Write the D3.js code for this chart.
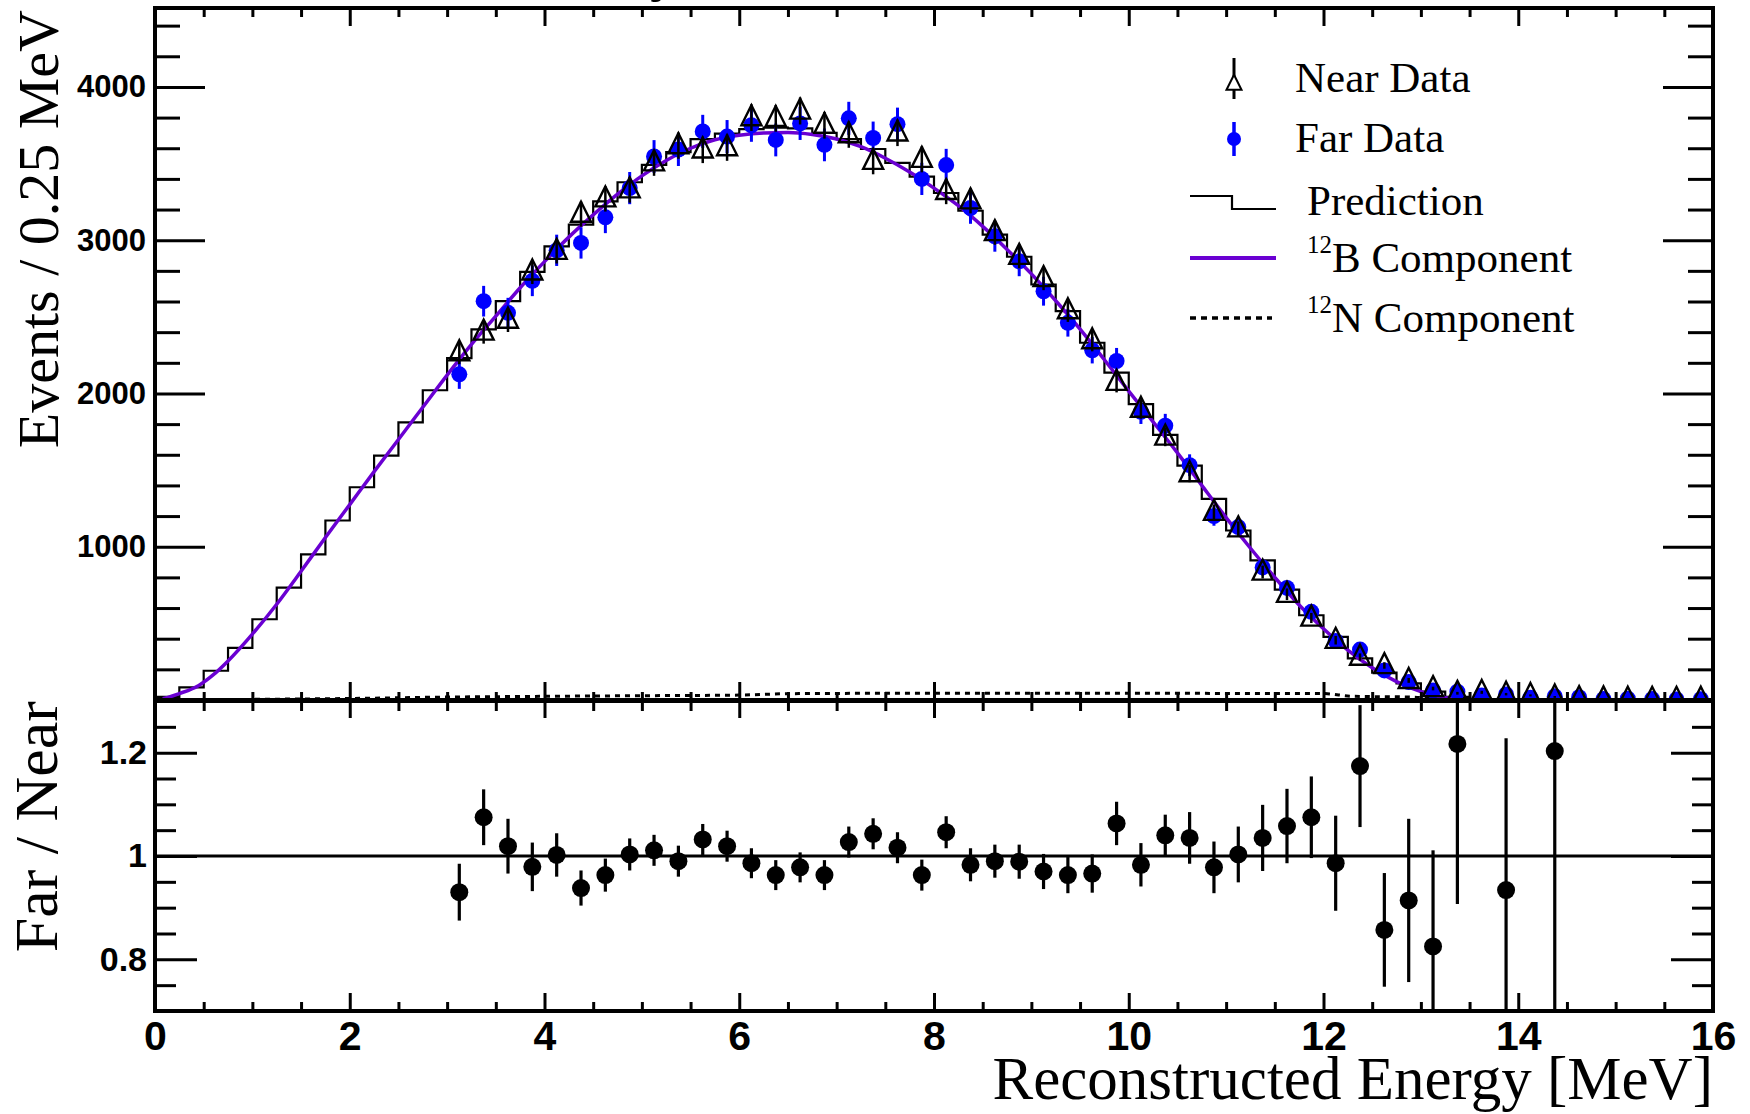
<!DOCTYPE html>
<html>
<head>
<meta charset="utf-8">
<script src="https://cdn.jsdelivr.net/npm/d3@7"></script>
<style>
  html, body { margin: 0; padding: 0; background: #ffffff; }
  svg { display: block; }
</style>
</head>
<body>
<svg id="chart" width="1750" height="1114"></svg>
<script>
// ---------------- DATA ----------------
const binWidth = 0.25;
// Prediction histogram: 64 bins of 0.25 MeV from 0 to 16 MeV
const predValues = [
  21, 82, 191, 340, 527, 733, 950, 1171, 1388, 1594,
  1812, 2021, 2231, 2418, 2602, 2793, 2960, 3101, 3253, 3378,
  3492, 3574, 3660, 3695, 3725, 3735, 3730, 3700, 3660, 3595,
  3505, 3415, 3308, 3192, 3036, 2892, 2711, 2537, 2331, 2136,
  1930, 1730, 1529, 1312, 1106, 911, 720, 553, 412, 271,
  178, 108, 54, 20, 6, 2, 0, 0, 0, 0,
  0, 0, 0, 0
];

// Data bin centres (MeV), 3.125 ... 15.875
const dataCenters = d3.range(3.125, 16, binWidth);
const nearValues = [
  2266, 2401, 2478, 2793, 2928, 3170, 3270, 3329, 3505, 3617, 3589, 3604,
  3800, 3795, 3843, 3750, 3689, 3515, 3700, 3528, 3318, 3257, 3050, 2895,
  2750, 2540, 2345, 2073, 1898, 1716, 1477, 1225, 1117, 835, 690, 535,
  390, 280, 225, 128, 75, 44, 50, 38, 30, 20, 10, 8,
  6, 5, 5, 6
];
const nearErrors = [
  75, 76, 77, 79, 80, 82, 83, 84, 85, 86, 86, 86,
  87, 87, 88, 87, 86, 85, 86, 85, 83, 82, 80, 78,
  76, 73, 70, 66, 63, 60, 56, 51, 48, 42, 38, 33,
  28, 24, 21, 16, 12, 9, 10, 8, 7, 6, 4, 4,
  3, 3, 3, 3
];
const farValues = [
  2125, 2602, 2526, 2735, 2934, 2982, 3149, 3340, 3546, 3591, 3710, 3676,
  3750, 3654, 3762, 3622, 3795, 3667, 3757, 3400, 3490, 3210, 3025, 2862,
  2667, 2461, 2282, 2212, 1880, 1790, 1532, 1200, 1128, 865, 731, 575,
  385, 329, 193, 117, 62, 54, 30, 36, 15, 24, 18, 6,
  8, 6, 4, 5
];
const farErrors = [
  95, 100, 98, 100, 102, 102, 103, 105, 107, 107, 108, 108,
  108, 107, 108, 107, 108, 107, 108, 105, 106, 103, 100, 97,
  94, 90, 86, 85, 79, 77, 71, 63, 61, 53, 49, 43,
  36, 33, 25, 20, 14, 13, 10, 11, 7, 9, 7, 4,
  5, 4, 3, 3
];

// 12B component (smooth curve) [MeV, events]
const b12Curve = [
  [0.08, 8], [0.25, 42], [0.45, 95], [0.6, 165], [0.75, 255], [1.0, 430],
  [1.25, 625], [1.5, 840], [1.75, 1060], [2.0, 1275], [2.25, 1490], [2.5, 1700],
  [2.75, 1910], [3.0, 2120], [3.25, 2320], [3.5, 2505], [3.75, 2690], [4.0, 2860],
  [4.25, 3020], [4.5, 3165], [4.75, 3300], [5.0, 3420], [5.25, 3520], [5.5, 3600],
  [5.75, 3655], [6.0, 3685], [6.25, 3700], [6.5, 3703], [6.75, 3690], [7.0, 3660],
  [7.25, 3610], [7.5, 3535], [7.75, 3445], [8.0, 3340], [8.25, 3225], [8.5, 3090],
  [8.75, 2940], [9.0, 2780], [9.25, 2605], [9.5, 2420], [9.75, 2220], [10.0, 2015],
  [10.25, 1815], [10.5, 1612], [10.75, 1400], [11.0, 1190], [11.25, 990], [11.5, 800],
  [11.75, 620], [12.0, 465], [12.25, 325], [12.5, 210], [12.75, 120], [13.0, 55],
  [13.25, 15], [13.45, 0]
];
// 12N component (dotted curve) [MeV, events]
const n12Curve = [
  [0.0, 0], [1.0, 4], [2.0, 10], [3.0, 19], [4.0, 24], [5.0, 28], [6.0, 32],
  [6.5, 41], [7.0, 43], [8.0, 44], [9.0, 44], [10.0, 44], [11.0, 43], [12.0, 42],
  [12.3, 24], [12.9, 19], [13.2, 5], [13.5, 0], [16.0, 0]
];

// Far / Near ratio
const ratioEnergy = [
  3.125, 3.375, 3.625, 3.875, 4.125, 4.375, 4.625, 4.875, 5.125, 5.375, 5.625, 5.875,
  6.125, 6.375, 6.625, 6.875, 7.125, 7.375, 7.625, 7.875, 8.125, 8.375, 8.625, 8.875,
  9.125, 9.375, 9.625, 9.875, 10.125, 10.375, 10.625, 10.875, 11.125, 11.375, 11.625, 11.875,
  12.125, 12.375, 12.625, 12.875, 13.125, 13.375, 13.875, 14.375
];
const ratioValues = [
  0.930, 1.075, 1.019, 0.979, 1.002, 0.938, 0.963, 1.003, 1.011, 0.990, 1.032, 1.019,
  0.986, 0.963, 0.978, 0.963, 1.027, 1.043, 1.016, 0.963, 1.046, 0.983, 0.990, 0.989,
  0.970, 0.963, 0.966, 1.063, 0.983, 1.040, 1.035, 0.978, 1.003, 1.035, 1.058, 1.075,
  0.986, 1.174, 0.857, 0.914, 0.825, 1.217, 0.934, 1.203
];
const ratioErrors = [
  0.055, 0.054, 0.053, 0.047, 0.042, 0.034, 0.032, 0.031, 0.030, 0.030, 0.030, 0.030,
  0.029, 0.029, 0.029, 0.029, 0.030, 0.030, 0.030, 0.030, 0.031, 0.032, 0.032, 0.033,
  0.034, 0.035, 0.037, 0.042, 0.042, 0.040, 0.050, 0.050, 0.054, 0.064, 0.072, 0.079,
  0.092, 0.118, 0.110, 0.158, 0.186, 0.310, 0.294, 0.600
];

// Axis ticks and labels
const xMajorTicks = [0, 2, 4, 6, 8, 10, 12, 14, 16];
const xMinorTicks = [0.5, 1, 1.5, 2.5, 3, 3.5, 4.5, 5, 5.5, 6.5, 7, 7.5, 8.5, 9, 9.5,
  10.5, 11, 11.5, 12.5, 13, 13.5, 14.5, 15, 15.5];
const yTopMajorTicks = [1000, 2000, 3000, 4000];
const yTopMinorTicks = [200, 400, 600, 800, 1200, 1400, 1600, 1800, 2200, 2400, 2600, 2800,
  3200, 3400, 3600, 3800, 4200, 4400];
const yBotMajorTicks = [0.8, 1.0, 1.2];
const yBotMinorTicks = [0.75, 0.85, 0.9, 0.95, 1.05, 1.1, 1.15, 1.25];

const xTitle = "Reconstructed Energy [MeV]";
const yTopTitle = "Events / 0.25 MeV";
const yBotTitle = "Far / Near";
const legendEntries = ["Near Data", "Far Data", "Prediction", "B Component", "N Component"];
const legendSup = ["", "", "", "12", "12"];

// ---------------- LAYOUT ----------------
const svg = d3.select("#chart");
const L = 155, R = 1713;
const topT = 8, topB = 700, botT = 701, botB = 1011;
const serif = "'Liberation Serif', 'Times New Roman', serif";
const sans = "'Liberation Sans', Arial, Helvetica, sans-serif";
const BLUE = "#0000ff";
const PURPLE = "#6a00d2";

const x = d3.scaleLinear().domain([0, 16]).range([L, R]);
const yTop = d3.scaleLinear().domain([0, 4515]).range([topB, topT]);
const yBot = d3.scaleLinear().domain([0.7, 1.3]).range([botB, botT]);

svg.append("rect").attr("width", 1750).attr("height", 1114).attr("fill", "#fff");

const defs = svg.append("defs");
defs.append("clipPath").attr("id", "clipTop")
  .append("rect").attr("x", L).attr("y", topT).attr("width", R - L).attr("height", topB - topT);
defs.append("clipPath").attr("id", "clipBot")
  .append("rect").attr("x", L).attr("y", botT).attr("width", R - L).attr("height", botB - botT);

// ---------------- TOP PANEL ----------------
const gTop = svg.append("g").attr("clip-path", "url(#clipTop)");

// prediction histogram
const histPts = predValues.map((v, i) => [i * binWidth, v]);
histPts.push([predValues.length * binWidth, predValues[predValues.length - 1]]);
gTop.append("path")
  .attr("d", d3.line().x(d => x(d[0])).y(d => yTop(d[1])).curve(d3.curveStepAfter)(histPts))
  .attr("fill", "none").attr("stroke", "#000").attr("stroke-width", 2.2);

// 12N component
gTop.append("path")
  .attr("d", d3.line().x(d => x(d[0])).y(d => yTop(d[1])).curve(d3.curveMonotoneX)(n12Curve))
  .attr("fill", "none").attr("stroke", "#000").attr("stroke-width", 3)
  .attr("stroke-dasharray", "5,5");

// 12B component
gTop.append("path")
  .attr("d", d3.line().x(d => x(d[0])).y(d => yTop(d[1])).curve(d3.curveMonotoneX)(b12Curve))
  .attr("fill", "none").attr("stroke", PURPLE).attr("stroke-width", 3.5);

// far data
const farData = dataCenters.map((e, i) => ({ e, v: farValues[i], s: farErrors[i] }));
gTop.append("g").selectAll("line").data(farData).join("line")
  .attr("x1", d => x(d.e)).attr("x2", d => x(d.e))
  .attr("y1", d => yTop(d.v - d.s)).attr("y2", d => yTop(d.v + d.s))
  .attr("stroke", BLUE).attr("stroke-width", 3);
gTop.append("g").selectAll("circle").data(farData).join("circle")
  .attr("cx", d => x(d.e)).attr("cy", d => yTop(d.v)).attr("r", 8)
  .attr("fill", BLUE);

// near data
const nearData = dataCenters.map((e, i) => ({ e, v: nearValues[i], s: nearErrors[i] }));
gTop.append("g").selectAll("line").data(nearData).join("line")
  .attr("x1", d => x(d.e)).attr("x2", d => x(d.e))
  .attr("y1", d => yTop(d.v - d.s)).attr("y2", d => yTop(d.v + d.s))
  .attr("stroke", "#000").attr("stroke-width", 2.5);
const tri = (cx, cy, s) => `M${cx},${cy - s * 0.62}L${cx + s * 0.5},${cy + s * 0.38}L${cx - s * 0.5},${cy + s * 0.38}Z`;
gTop.append("g").selectAll("path").data(nearData).join("path")
  .attr("d", d => tri(x(d.e), yTop(d.v), 20))
  .attr("fill", "none").attr("stroke", "#000").attr("stroke-width", 2.4);

// ---------------- BOTTOM PANEL ----------------
const gBot = svg.append("g").attr("clip-path", "url(#clipBot)");
gBot.append("line")
  .attr("x1", x(0)).attr("x2", x(16)).attr("y1", yBot(1)).attr("y2", yBot(1))
  .attr("stroke", "#000").attr("stroke-width", 3);
const ratioData = ratioEnergy.map((e, i) => ({ e, v: ratioValues[i], s: ratioErrors[i] }));
gBot.append("g").selectAll("line").data(ratioData).join("line")
  .attr("x1", d => x(d.e)).attr("x2", d => x(d.e))
  .attr("y1", d => yBot(d.v - d.s)).attr("y2", d => yBot(d.v + d.s))
  .attr("stroke", "#000").attr("stroke-width", 3.2);
gBot.append("g").selectAll("circle").data(ratioData).join("circle")
  .attr("cx", d => x(d.e)).attr("cy", d => yBot(d.v)).attr("r", 9)
  .attr("fill", "#000");

// ---------------- AXES ----------------
function styleAxis(g) {
  g.select(".domain").remove();
  g.selectAll(".tick line").attr("stroke", "#000").attr("stroke-width", 3);
  g.selectAll(".tick text").attr("fill", "#000");
  g.attr("font-family", sans).attr("font-weight", "bold");
}
function addAxis(axisGen, transform, fontSize) {
  const g = svg.append("g").attr("transform", transform).call(axisGen);
  styleAxis(g);
  if (fontSize) g.attr("font-size", fontSize);
  return g;
}
const none = () => "";

// top panel: left
addAxis(d3.axisLeft(yTop).tickValues(yTopMajorTicks).tickSize(-50).tickPadding(9)
  .tickFormat(d3.format("d")), `translate(${L},0)`, 31);
addAxis(d3.axisLeft(yTop).tickValues(yTopMinorTicks).tickSize(-25).tickFormat(none), `translate(${L},0)`);
// top panel: right
addAxis(d3.axisRight(yTop).tickValues(yTopMajorTicks).tickSize(-50).tickFormat(none), `translate(${R},0)`);
addAxis(d3.axisRight(yTop).tickValues(yTopMinorTicks).tickSize(-25).tickFormat(none), `translate(${R},0)`);
// top panel: top and bottom
addAxis(d3.axisTop(x).tickValues(xMajorTicks).tickSize(-18).tickFormat(none), `translate(0,${topT})`);
addAxis(d3.axisTop(x).tickValues(xMinorTicks).tickSize(-9).tickFormat(none), `translate(0,${topT})`);
addAxis(d3.axisBottom(x).tickValues(xMajorTicks).tickSize(-18).tickFormat(none), `translate(0,${topB})`);
addAxis(d3.axisBottom(x).tickValues(xMinorTicks).tickSize(-8).tickFormat(none), `translate(0,${topB})`);

// bottom panel: left / right
addAxis(d3.axisLeft(yBot).tickValues(yBotMajorTicks).tickSize(-42).tickPadding(8)
  .tickFormat(d => (d === 1 ? "1" : d3.format(".1f")(d))), `translate(${L},0)`, 34);
addAxis(d3.axisLeft(yBot).tickValues(yBotMinorTicks).tickSize(-21).tickFormat(none), `translate(${L},0)`);
addAxis(d3.axisRight(yBot).tickValues(yBotMajorTicks).tickSize(-42).tickFormat(none), `translate(${R},0)`);
addAxis(d3.axisRight(yBot).tickValues(yBotMinorTicks).tickSize(-21).tickFormat(none), `translate(${R},0)`);
// bottom panel: top / bottom
addAxis(d3.axisTop(x).tickValues(xMajorTicks).tickSize(-17).tickFormat(none), `translate(0,${botT})`);
addAxis(d3.axisTop(x).tickValues(xMinorTicks).tickSize(-10).tickFormat(none), `translate(0,${botT})`);
addAxis(d3.axisBottom(x).tickValues(xMajorTicks).tickSize(-18).tickPadding(10)
  .tickFormat(d3.format("d")), `translate(0,${botB})`, 41);
addAxis(d3.axisBottom(x).tickValues(xMinorTicks).tickSize(-9).tickFormat(none), `translate(0,${botB})`);

// frames
svg.append("rect").attr("x", L).attr("y", topT).attr("width", R - L).attr("height", topB - topT)
  .attr("fill", "none").attr("stroke", "#000").attr("stroke-width", 4);
svg.append("rect").attr("x", L).attr("y", botT).attr("width", R - L).attr("height", botB - botT)
  .attr("fill", "none").attr("stroke", "#000").attr("stroke-width", 4);

// ---------------- TITLES ----------------
svg.append("text")
  .attr("transform", "translate(58,10) rotate(-90)")
  .attr("text-anchor", "end").attr("font-family", serif).attr("font-size", 58)
  .attr("fill", "#000").text(yTopTitle);
svg.append("text")
  .attr("transform", `translate(57,${botT}) rotate(-90)`)
  .attr("text-anchor", "end").attr("font-family", serif).attr("font-size", 62)
  .attr("fill", "#000").text(yBotTitle);
svg.append("text")
  .attr("x", R).attr("y", 1099)
  .attr("text-anchor", "end").attr("font-family", serif).attr("font-size", 61)
  .attr("fill", "#000").text(xTitle);
// clipped fragment of a title above the frame
svg.append("text").attr("x", 650).attr("y", -11)
  .attr("font-family", serif).attr("font-size", 60).attr("fill", "#000").text("y");

// ---------------- LEGEND ----------------
const lg = svg.append("g");
const legendY = [78, 139, 202, 258, 318];
const legendBase = [92, 152, 215, 272, 332];
const legendTextX = [1295, 1295, 1307, 1307, 1307];
const symX0 = 1190, symX1 = 1276, symXc = 1234;

// Near data symbol
lg.append("line").attr("x1", symXc).attr("x2", symXc).attr("y1", legendY[0] - 20).attr("y2", legendY[0] + 21)
  .attr("stroke", "#000").attr("stroke-width", 3);
lg.append("path").attr("d", tri(symXc, legendY[0] + 6, 15))
  .attr("fill", "#fff").attr("stroke", "#000").attr("stroke-width", 2);
// Far data symbol
lg.append("line").attr("x1", symXc).attr("x2", symXc).attr("y1", legendY[1] - 17).attr("y2", legendY[1] + 17)
  .attr("stroke", BLUE).attr("stroke-width", 3.5);
lg.append("circle").attr("cx", symXc).attr("cy", legendY[1]).attr("r", 7).attr("fill", BLUE);
// Prediction symbol
lg.append("path")
  .attr("d", `M${symX0},196H${symXc - 2}V209H${symX1}`)
  .attr("fill", "none").attr("stroke", "#000").attr("stroke-width", 2.2);
// 12B
lg.append("line").attr("x1", symX0).attr("x2", symX1).attr("y1", legendY[3]).attr("y2", legendY[3])
  .attr("stroke", PURPLE).attr("stroke-width", 4);
// 12N
lg.append("line").attr("x1", symX0).attr("x2", symX1 - 4).attr("y1", legendY[4]).attr("y2", legendY[4])
  .attr("stroke", "#000").attr("stroke-width", 3.5).attr("stroke-dasharray", "6,5");

legendEntries.forEach((t, i) => {
  const tx = lg.append("text").attr("x", legendTextX[i]).attr("y", legendBase[i])
    .attr("font-family", serif).attr("font-size", 43).attr("fill", "#000");
  if (legendSup[i]) {
    tx.append("tspan").attr("font-size", 25).attr("dy", -19).text(legendSup[i]);
    tx.append("tspan").attr("dy", 19).text(t);
  } else {
    tx.text(t);
  }
});
</script>
</body>
</html>
